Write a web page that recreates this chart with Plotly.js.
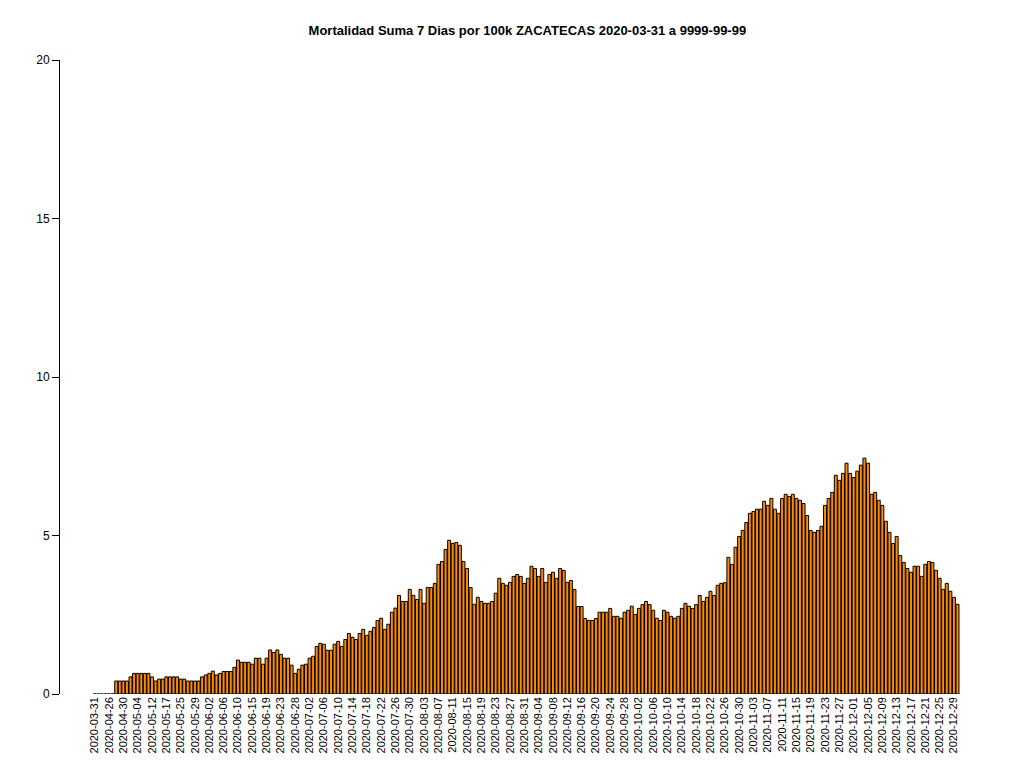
<!DOCTYPE html>
<html>
<head>
<meta charset="utf-8">
<script src="https://cdn.plot.ly/plotly-3.0.1.min.js"></script>
<style>body{margin:0;background:#fff}#chart{width:1024px;height:768px}</style>
</head>
<body>
<div id="chart"></div>
<script>
// dates before the continuous run (gaps in the source series)
var earlyDates = [
  "2020-03-31", "2020-04-08", "2020-04-15", "2020-04-22",
  "2020-04-26", "2020-04-27", "2020-04-28", "2020-04-29", "2020-04-30",
  "2020-05-01", "2020-05-02", "2020-05-03", "2020-05-04",
  "2020-05-06", "2020-05-08", "2020-05-10", "2020-05-12",
  "2020-05-13", "2020-05-14", "2020-05-16", "2020-05-17",
  "2020-05-19", "2020-05-21", "2020-05-23",
  "2020-05-25", "2020-05-26", "2020-05-27", "2020-05-28", "2020-05-29", "2020-05-30", "2020-05-31",
  "2020-06-01", "2020-06-02", "2020-06-03", "2020-06-04", "2020-06-05", "2020-06-06", "2020-06-07",
  "2020-06-08", "2020-06-09", "2020-06-10",
  "2020-06-11", "2020-06-12", "2020-06-14",
  "2020-06-15", "2020-06-16", "2020-06-17", "2020-06-18", "2020-06-19", "2020-06-20", "2020-06-21",
  "2020-06-22", "2020-06-23",
  "2020-06-24", "2020-06-25", "2020-06-27"
];
var dailyFrom = "2020-06-28";
var dailyTo = "2020-12-30";

var values = [
  0, 0, 0, 0, 0, 0,
  0.41, 0.41, 0.41, 0.41, 0.54, 0.65, 0.65, 0.65, 0.65, 0.65, 0.54, 0.41, 0.47, 0.47,
  0.54, 0.54, 0.54, 0.54, 0.47, 0.47, 0.41, 0.41, 0.41, 0.41, 0.54, 0.6, 0.65, 0.72,
  0.6, 0.65, 0.71, 0.71, 0.71, 0.84, 1.07, 1.0, 1.0, 1.0, 0.94, 1.13, 1.13, 0.94, 1.13, 1.39,
  1.31, 1.39, 1.25, 1.13, 1.13, 0.91, 0.65, 0.78, 0.91, 0.94, 1.13, 1.19, 1.5, 1.6, 1.57, 1.38,
  1.38, 1.57, 1.66, 1.5,
  1.72, 1.91, 1.79, 1.72, 1.91, 2.04, 1.85, 1.98, 2.1, 2.32, 2.39, 2.04, 2.2, 2.58, 2.71, 3.11,
  2.92, 2.92, 3.3, 3.11, 2.98, 3.3, 2.86, 3.36, 3.36, 3.49, 4.09, 4.18, 4.56, 4.85, 4.75, 4.78,
  4.69, 4.18, 3.96, 3.36,
  2.83, 3.05, 2.92, 2.86, 2.86, 2.92, 3.18, 3.65, 3.49, 3.43, 3.52, 3.71, 3.77, 3.71, 3.49, 3.65,
  4.03, 3.96, 3.71, 3.96, 3.52, 3.77, 3.84, 3.65, 3.96, 3.9, 3.52, 3.58, 3.3, 2.76, 2.76, 2.38,
  2.32, 2.32, 2.38,
  2.58, 2.58, 2.58, 2.7, 2.45, 2.45, 2.39, 2.58, 2.64, 2.77, 2.51, 2.7, 2.82, 2.92, 2.82, 2.64,
  2.39, 2.32, 2.64, 2.58, 2.45, 2.39, 2.45, 2.7, 2.86, 2.77, 2.7, 2.82, 3.11, 2.92, 3.05, 3.24,
  3.11, 3.43,
  3.49, 3.51, 4.31, 4.09, 4.63, 4.97, 5.16, 5.41, 5.7, 5.76, 5.83, 5.83, 6.08, 5.95, 6.17, 5.83,
  5.7, 6.17, 6.3, 6.23, 6.3, 6.17, 6.11, 6.01, 5.63, 5.16, 5.1, 5.16, 5.29, 5.95, 6.17, 6.36,
  6.9, 6.74, 6.96,
  7.28, 6.96, 6.83, 7.03, 7.22, 7.44, 7.28, 6.3, 6.36, 6.11, 5.95, 5.45, 5.1, 4.75, 4.97, 4.37,
  4.15, 3.96, 3.84, 4.03, 4.03, 3.71, 4.09, 4.18, 4.15, 3.9, 3.65, 3.3, 3.49, 3.24, 3.05, 2.83
];
var yTicks = [0, 5, 10, 15, 20];

var dates = earlyDates.slice();
var d = new Date(dailyFrom + "T00:00:00Z");
var end = new Date(dailyTo + "T00:00:00Z");
while (d <= end) {
  dates.push(d.toISOString().slice(0, 10));
  d.setUTCDate(d.getUTCDate() + 1);
}

var tickDates = dates.filter(function (v, i) { return i % 4 === 0; });

var trace = {
  type: "bar",
  x: dates,
  y: values,
  marker: { color: "#ff8c00", line: { color: "#000000", width: 1 } },
  hoverinfo: "x+y"
};

var layout = {
  width: 1024,
  height: 768,
  paper_bgcolor: "#ffffff",
  plot_bgcolor: "#ffffff",
  margin: { l: 60, r: 40, t: 60, b: 74 },
  bargap: 0.17,
  showlegend: false,
  font: { family: "Liberation Sans, Arial, sans-serif", size: 12, color: "#000" },
  title: {
    text: "<b>Mortalidad Suma 7 Dias por 100k ZACATECAS 2020-03-31 a 9999-99-99</b>",
    x: 0.515, xanchor: "center", y: 0.96, yanchor: "middle",
    font: { size: 13, color: "#000" }
  },
  xaxis: {
    type: "category",
    range: [-9.7, 248.4],
    tickmode: "array",
    tickvals: tickDates,
    ticktext: tickDates,
    tickangle: -90,
    tickfont: { size: 11 },
    ticks: "",
    showline: false,
    showgrid: false,
    zeroline: false,
    automargin: false
  },
  yaxis: {
    range: [0, 20],
    tickmode: "array",
    tickvals: yTicks,
    ticks: "outside",
    ticklen: 7,
    tickcolor: "#000",
    showline: true,
    linecolor: "#000",
    linewidth: 1,
    showgrid: false,
    zeroline: false,
    tickfont: { size: 12 },
    automargin: false
  }
};

Plotly.newPlot("chart", [trace], layout, { displayModeBar: false, staticPlot: true });
</script>
</body>
</html>
